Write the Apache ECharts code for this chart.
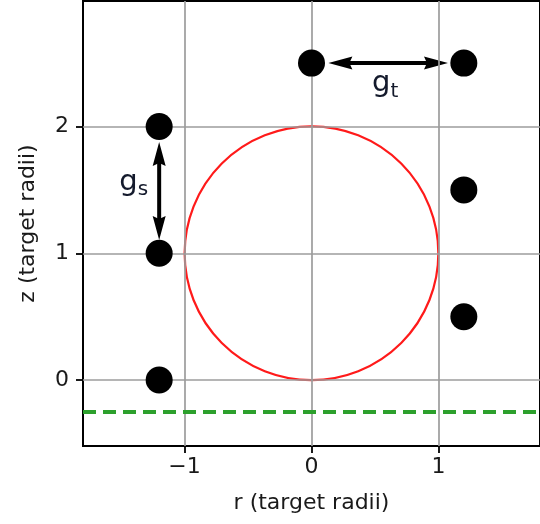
<!DOCTYPE html>
<html><head><meta charset="utf-8">
<script src="https://cdn.jsdelivr.net/npm/echarts@6/dist/echarts.min.js"></script>
<style>html,body{margin:0;padding:0;background:#fff}#c{width:540px;height:524px}</style>
</head><body><div id="c"></div>
<script>
// data
const xTicks = [-1, 0, 1];
const yTicks = [0, 1, 2];
const xRange = [-1.8, 1.8];
const yRange = [-0.52, 2.99];
const points = [[-1.2, 0], [-1.2, 1], [-1.2, 2], [0, 2.5], [1.2, 2.5], [1.2, 1.5], [1.2, 0.5]];
const targetCircle = [[0, 1, 1]]; // center r, center z, radius
const floorZ = -0.25;
const arrows = [
  [0.133, 2.5, 1.075, 2.5],
  [-1.2, 1.104, -1.2, 1.877]
];
const gapLabels = [
  { pos: [0.58, 2.34], main: 'g', sub: 't' },
  { pos: [-1.40, 1.56], main: 'g', sub: 's' }
];

const chart = echarts.init(document.getElementById('c'));
const font = 'DejaVu Sans';
const txt = '#1a1a1a';
const gCol = '#141a2c';
chart.setOption({
  animation: false,
  grid: { left: 83, right: -2, top: 1, bottom: 78, show: true, borderColor: '#000', borderWidth: 2, backgroundColor: 'transparent' },
  xAxis: {
    type: 'value', min: xRange[0], max: xRange[1],
    name: 'r (target radii)', nameLocation: 'middle', nameGap: 46,
    nameTextStyle: { fontFamily: font, fontSize: 22, color: txt },
    axisLine: { show: true, onZero: false, lineStyle: { color: '#000', width: 2 } },
    axisTick: { show: true, customValues: xTicks, length: 7, lineStyle: { color: '#000', width: 1.8 } },
    axisLabel: { customValues: xTicks, fontFamily: font, fontSize: 22, color: txt, margin: 10,
      formatter: v => (v < 0 ? '\u2212' + Math.abs(v) : String(v)) },
    splitLine: { show: false }
  },
  yAxis: {
    type: 'value', min: yRange[0], max: yRange[1],
    name: 'z (target radii)', nameLocation: 'middle', nameGap: 44, nameRotate: 90,
    nameTextStyle: { fontFamily: font, fontSize: 22, color: txt },
    axisLine: { show: true, onZero: false, lineStyle: { color: '#000', width: 2 } },
    axisTick: { show: true, customValues: yTicks, length: 7, lineStyle: { color: '#000', width: 1.8 } },
    axisLabel: { customValues: yTicks, fontFamily: font, fontSize: 22, color: txt, margin: 14 },
    splitLine: { show: false }
  },
  series: [
    {
      type: 'line', data: [], silent: true,
      markLine: {
        silent: true, symbol: 'none', label: { show: false },
        lineStyle: { color: '#9c9c9c', width: 1.7, type: 'solid' },
        data: xTicks.map(v => ({ xAxis: v })).concat(yTicks.map(v => ({ yAxis: v })))
      }
    },
    {
      type: 'custom', silent: true, data: targetCircle, z: 3,
      renderItem: function (params, api) {
        const c = api.coord([api.value(0), api.value(1)]);
        const s = api.size([api.value(2), api.value(2)]);
        return { type: 'circle', shape: { cx: c[0], cy: c[1], r: (s[0] + s[1]) / 2 },
          style: { fill: 'none', stroke: '#ff1a1a', lineWidth: 2.2 } };
      }
    },
    {
      type: 'line', data: [], silent: true,
      markLine: {
        silent: true, symbol: 'none', label: { show: false },
        lineStyle: { color: '#2ca02c', width: 3.8, type: [13, 7] },
        data: [{ yAxis: floorZ }]
      }
    },
    {
      type: 'custom', silent: true, z: 4, data: arrows,
      renderItem: function (params, api) {
        const a = api.coord([api.value(0), api.value(1)]);
        const b = api.coord([api.value(2), api.value(3)]);
        const dx = b[0] - a[0], dy = b[1] - a[1];
        const L = Math.hypot(dx, dy), ux = dx / L, uy = dy / L, px = -uy, py = ux;
        const hl = 24, hw = 6.5;
        const head = (t, d) => [[t[0], t[1]],
          [t[0] + d * ux * hl + px * hw, t[1] + d * uy * hl + py * hw],
          [t[0] + d * ux * (hl - 3), t[1] + d * uy * (hl - 3)],
          [t[0] + d * ux * hl - px * hw, t[1] + d * uy * hl - py * hw]];
        return { type: 'group', children: [
          { type: 'line', shape: { x1: a[0] + ux * 10, y1: a[1] + uy * 10, x2: b[0] - ux * 10, y2: b[1] - uy * 10 },
            style: { stroke: '#000', lineWidth: 4 } },
          { type: 'polygon', shape: { points: head(a, 1) }, style: { fill: '#000' } },
          { type: 'polygon', shape: { points: head(b, -1) }, style: { fill: '#000' } }
        ] };
      }
    },
    {
      type: 'scatter', symbol: 'circle', symbolSize: 27, z: 5,
      itemStyle: { color: '#000', opacity: 1 },
      data: points
    },
    {
      type: 'scatter', symbolSize: 0, z: 6, silent: true,
      itemStyle: { opacity: 1 },
      data: gapLabels.map(g => ({ value: g.pos, main: g.main, sub: g.sub })),
      label: {
        show: true, position: 'inside', color: gCol, opacity: 1, textBorderWidth: 0,
        formatter: p => '{m|' + p.data.main + '}{s|' + p.data.sub + '}',
        rich: {
          m: { fontFamily: 'DejaVu Sans', fontSize: 29, color: gCol, textBorderWidth: 0 },
          s: { fontFamily: 'DejaVu Sans', fontSize: 20, color: gCol, textBorderWidth: 0, padding: [16, 0, 0, 0] }
        }
      }
    }
  ]
});
</script></body></html>
